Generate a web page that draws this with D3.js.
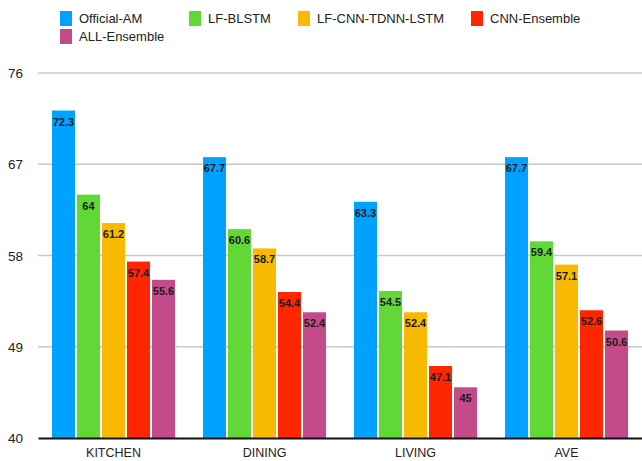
<!DOCTYPE html>
<html>
<head>
<meta charset="utf-8">
<script src="https://cdn.jsdelivr.net/npm/d3@7"></script>
<style>
  body { margin: 0; background: #fff; }
  svg { display: block; font-family: "Liberation Sans", Arial, sans-serif; }
</style>
</head>
<body>
<svg id="chart"></svg>
<script>
const categories = ["KITCHEN", "DINING", "LIVING", "AVE"];
const seriesNames = ["Official-AM", "LF-BLSTM", "LF-CNN-TDNN-LSTM", "CNN-Ensemble", "ALL-Ensemble"];
const officialAM = [72.3, 67.7, 63.3, 67.7];
const lfBlstm = [64, 60.6, 54.5, 59.4];
const lfCnnTdnnLstm = [61.2, 58.7, 52.4, 57.1];
const cnnEnsemble = [57.4, 54.4, 47.1, 52.6];
const allEnsemble = [55.6, 52.4, 45, 50.6];
const yTicks = [40, 49, 58, 67, 76];
const colors = ["#00a2ff", "#61d836", "#f8ba00", "#ff2600", "#c34b89"];

const seriesValues = [officialAM, lfBlstm, lfCnnTdnnLstm, cnnEnsemble, allEnsemble];

const w = 642;
const h = 461;
const plotLeft = 38;
const plotRight = 642;
const plotTop = 73;
const plotBottom = 438;

const svg = d3.select("#chart").attr("width", w).attr("height", h);

const x0 = d3.scaleBand()
  .domain(categories)
  .range([plotLeft, plotRight])
  .paddingInner(0.185)
  .paddingOuter(0.0925);

const x1 = d3.scaleBand()
  .domain(seriesNames)
  .range([0, x0.bandwidth()])
  .paddingInner(0.08);

const y = d3.scaleLinear().domain([40, 76]).range([plotBottom, plotTop]);

// gridlines
svg.append("g")
  .selectAll("line")
  .data(yTicks.slice(1))
  .enter()
  .append("line")
  .attr("x1", plotLeft)
  .attr("x2", plotRight)
  .attr("y1", (d) => y(d))
  .attr("y2", (d) => y(d))
  .attr("stroke", "#c8c8c8")
  .attr("stroke-width", 1.6);

// y tick labels
svg.append("g")
  .selectAll("text")
  .data(yTicks)
  .enter()
  .append("text")
  .attr("x", 23)
  .attr("y", (d) => y(d) + 5)
  .attr("text-anchor", "end")
  .style("font-size", "13.5px")
  .style("fill", "#222")
  .text((d) => d);

// bars
const groups = svg.append("g")
  .selectAll("g")
  .data(categories)
  .enter()
  .append("g")
  .attr("transform", (d) => "translate(" + x0(d) + ",0)");

const cells = groups.selectAll("g")
  .data((cat, ci) => seriesNames.map((s, si) => ({ s, si, v: seriesValues[si][ci] })))
  .enter()
  .append("g");

cells.append("rect")
  .attr("x", (d) => x1(d.s))
  .attr("y", (d) => y(d.v))
  .attr("width", x1.bandwidth())
  .attr("height", (d) => plotBottom - y(d.v))
  .style("fill", (d) => colors[d.si]);

cells.append("text")
  .attr("x", (d) => x1(d.s) + x1.bandwidth() / 2)
  .attr("y", (d) => y(d.v) + 15)
  .attr("text-anchor", "middle")
  .style("font-size", "11px")
  .style("font-weight", "bold")
  .style("fill", "#1a1a1a")
  .text((d) => d.v);

// x axis
const xAxis = d3.axisBottom(x0).tickSize(0).tickPadding(10);
const xg = svg.append("g")
  .attr("transform", "translate(0," + plotBottom + ")")
  .call(xAxis);
xg.select(".domain").attr("stroke", "#111").attr("stroke-width", 2);
xg.selectAll("text")
  .style("font-size", "12.5px")
  .style("font-family", "'Liberation Sans', Arial, sans-serif")
  .style("fill", "#222")
  .attr("dy", "0.75em");

// legend
const legendPos = [
  { x: 60, y: 11 },
  { x: 189, y: 11 },
  { x: 298, y: 11 },
  { x: 471, y: 11 },
  { x: 60, y: 29 },
];
const legend = svg.append("g").attr("id", "legend");
const items = legend.selectAll("g")
  .data(seriesNames)
  .enter()
  .append("g")
  .attr("transform", (d, i) => "translate(" + legendPos[i].x + "," + legendPos[i].y + ")");
items.append("rect")
  .attr("width", 12)
  .attr("height", 15)
  .style("fill", (d, i) => colors[i]);
items.append("text")
  .attr("x", 19)
  .attr("y", 12)
  .style("font-size", "13px")
  .style("fill", "#222")
  .text((d) => d);
</script>
</body>
</html>
